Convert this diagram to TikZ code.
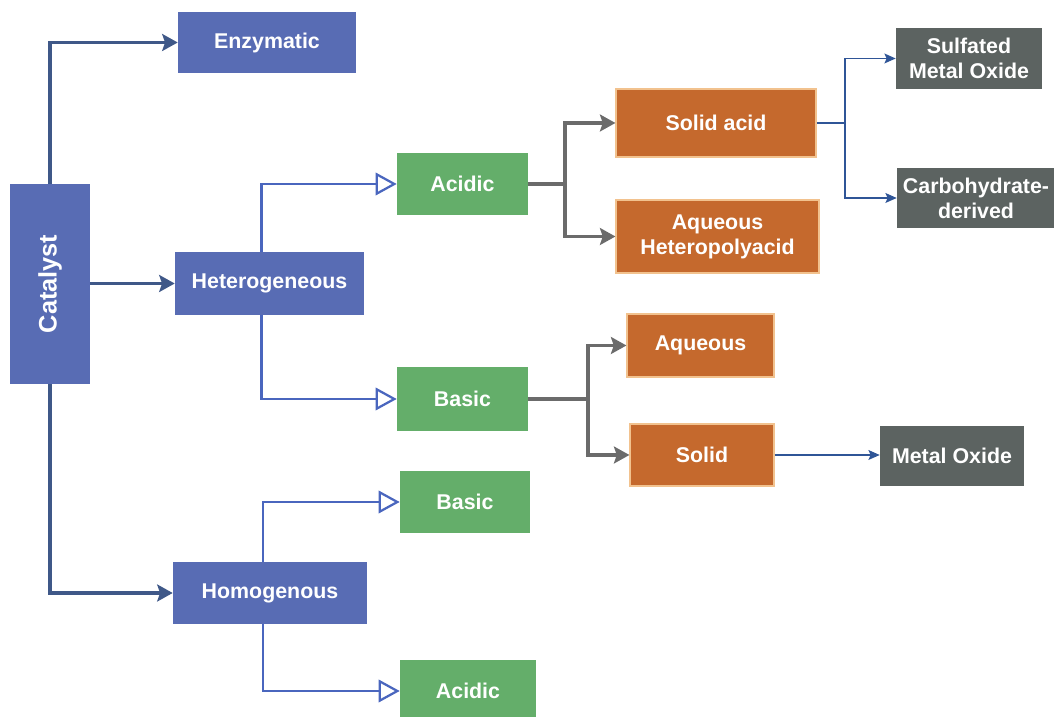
\documentclass[tikz,border=0pt]{standalone}
\usepackage{fontspec}
\setmainfont{Liberation Sans}
\usepackage{tikz}
\usetikzlibrary{arrows.meta}

\definecolor{boxblue}{HTML}{586CB4}
\definecolor{boxgreen}{HTML}{64AE6A}
\definecolor{boxorange}{HTML}{C5692D}
\definecolor{rimorange}{HTML}{F2C28E}
\definecolor{boxgrey}{HTML}{5C6361}
\definecolor{maincol}{HTML}{3F5888}
\definecolor{opencol}{HTML}{4A66BE}
\definecolor{greycol}{HTML}{6B6B6B}
\definecolor{thincol}{HTML}{2F5597}

\begin{document}
\begin{tikzpicture}
          [font=\bfseries\fontsize{15.2}{17.8}\selectfont,
          box/.style={shape=rectangle,text=white,align=center,inner sep=2pt},
          bluebox/.style={box,fill=boxblue},
          greenbox/.style={box,fill=boxgreen},
          orangebox/.style={box,fill=boxorange,draw=rimorange,line width=0.8pt},
          greybox/.style={box,fill=boxgrey},
          mainarc/.style={-{Stealth[length=11pt,width=12pt,inset=2pt]},line width=2.4pt,draw=maincol},
          openarc/.style={-{Triangle[open,length=15pt,width=16pt,line width=1.6pt]},line width=1.6pt,draw=opencol},
          greyline/.style={line width=2.2pt,draw=greycol},
          greyarc/.style={greyline,-{Stealth[length=11pt,width=12pt,inset=2pt]}},
          thinarc/.style={-{Stealth[length=8pt,width=7pt,inset=1.5pt]},line width=0.9pt,draw=thincol}]

          \useasboundingbox (0,0) rectangle (26.35,17.925);

            \node (cat) [bluebox,minimum width=2cm,minimum height=5cm] at (1.25,10.825)
                {\fontsize{18}{20}\selectfont\rotatebox{90}{Catalyst}};
            \node (enz) [bluebox,minimum width=4.45cm,minimum height=1.525cm] at (6.675,16.8625) {Enzymatic};
            \node (het) [bluebox,minimum width=4.725cm,minimum height=1.575cm] at (6.7375,10.8375) {Heterogeneous};
            \node (hom) [bluebox,minimum width=4.85cm,minimum height=1.55cm] at (6.75,3.1) {Homogenous};

            \node (hetacid) [greenbox,minimum width=3.275cm,minimum height=1.55cm] at (11.5625,13.325) {Acidic};
            \node (hetbasic) [greenbox,minimum width=3.275cm,minimum height=1.6cm] at (11.5625,7.95) {Basic};
            \node (hombasic) [greenbox,minimum width=3.25cm,minimum height=1.55cm] at (11.625,5.375) {Basic};
            \node (homacid) [greenbox,minimum width=3.4cm,minimum height=1.55cm] at (11.7,0.65) {Acidic};

            \node (solidacid) [orangebox,minimum width=5cm,minimum height=1.7cm] at (17.9,14.85) {Solid acid};
            \node (aqhpa) [orangebox,minimum width=5.075cm,minimum height=1.825cm] at (17.9375,12.0125) {Aqueous\\Heteropolyacid};
            \node (aq) [orangebox,minimum width=3.675cm,minimum height=1.575cm] at (17.5125,9.2875) {Aqueous};
            \node (solid) [orangebox,minimum width=3.6cm,minimum height=1.55cm] at (17.55,6.55) {Solid};

            \node (sulf) [greybox,minimum width=3.65cm,minimum height=1.525cm] at (24.225,16.4625) {Sulfated\\Metal Oxide};
            \node (carb) [greybox,minimum width=3.95cm,minimum height=1.5cm] at (24.4,12.975) {Carbohydrate-\\derived};
            \node (metox) [greybox,minimum width=3.6cm,minimum height=1.5cm] at (23.8,6.525) {Metal Oxide};

          \coordinate (ja) at (14.125,13.325);
          \coordinate (jb) at (14.7,7.95);
          \coordinate (jc) at (21.125,14.85);

            \draw [mainarc] (cat.north) |- (enz.west);
            \draw [mainarc] (cat.east |- het.west) -- (het.west);
            \draw [mainarc] (cat.south) |- (hom.west);

            \draw [openarc] ([xshift=-0.2cm]het.north) |- (hetacid.west);
            \draw [openarc] ([xshift=-0.2cm]het.south) |- (hetbasic.west);
            \draw [openarc] ([xshift=-0.175cm]hom.north) |- (hombasic.west);
            \draw [openarc] ([xshift=-0.175cm]hom.south) |- (homacid.west);

            \draw [greyline] (hetacid.east) -- (ja);
            \draw [greyarc] (ja) |- (solidacid.west);
            \draw [greyarc] (ja) |- (aqhpa.west);
            \draw [greyline] (hetbasic.east) -- (jb);
            \draw [greyarc] (jb) |- (aq.west);
            \draw [greyarc] (jb) |- (solid.west);

            \draw [thincol,line width=0.9pt] (solidacid.east) -- (jc);
            \draw [thinarc] (jc) |- (sulf.west);
            \draw [thinarc] (jc) |- (carb.west);
            \draw [thinarc] (solid.east) -- (solid.east -| metox.west);

        \end{tikzpicture}
\end{document}
